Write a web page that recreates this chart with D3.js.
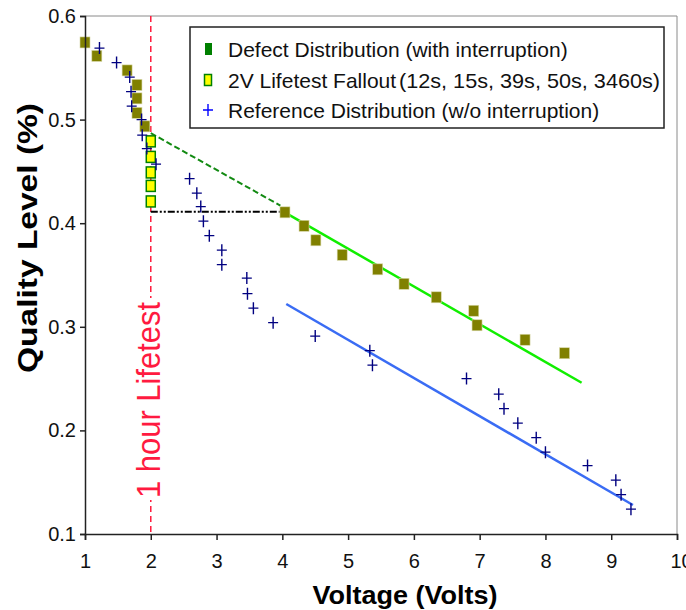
<!DOCTYPE html>
<html>
<head>
<meta charset="utf-8">
<script src="https://cdn.jsdelivr.net/npm/d3@7"></script>
<style>
  body { margin: 0; background: #fff; overflow: hidden; }
  text { font-family: Arial, "Liberation Sans", sans-serif; }
</style>
</head>
<body>
<script>
// Defect distribution (with interruption)
const defectX = [1.0, 1.18, 1.64, 1.79, 1.79, 1.79, 1.91, 4.04, 4.33, 4.51, 4.91, 5.45, 5.85, 6.34, 6.91, 6.96, 7.69, 8.29]
const defectY = [0.574, 0.561, 0.547, 0.533, 0.520, 0.506, 0.493, 0.410, 0.397, 0.383, 0.369, 0.355, 0.341, 0.328, 0.315, 0.301, 0.287, 0.274]

// 2V lifetest fallout
const falloutX = [2, 2, 2, 2, 2]
const falloutY = [0.479, 0.464, 0.449, 0.436, 0.421]

// Reference distribution (w/o interruption)
const refX = [1.22, 1.48, 1.68, 1.70, 1.71, 1.86, 1.87, 1.94, 2.08, 2.59, 2.70, 2.76, 2.80, 2.89, 3.08, 3.08, 3.46,
  3.47, 3.56, 3.86, 4.50, 5.33, 5.37, 6.80, 7.29, 7.37, 7.58, 7.86, 8.00, 8.64, 9.07, 9.15, 9.30]
const refY = [0.569, 0.555, 0.541, 0.527, 0.513, 0.500, 0.485, 0.472, 0.457, 0.443, 0.429, 0.416, 0.402, 0.388, 0.374,
  0.360, 0.347, 0.332, 0.318, 0.304, 0.291, 0.277, 0.263, 0.250, 0.235, 0.221, 0.207, 0.193, 0.179, 0.166, 0.152, 0.138, 0.124]

// trend lines [[x0, y0], [x1, y1]]
const defectFit = [[4.05, 0.410], [8.55, 0.246]]
const refFit = [[4.06, 0.322], [9.33, 0.128]]
const fallbackLine = [[2, 0.487], [3.97, 0.417]]
const levelLine = [[2, 0.411], [3.96, 0.411]]
const lifetestX = 2

const xTicks = [1, 2, 3, 4, 5, 6, 7, 8, 9, 10]
const yTicks = [0.1, 0.2, 0.3, 0.4, 0.5, 0.6]

const legendLabels = [
  'Defect Distribution (with interruption)',
  '2V Lifetest Fallout',
  'Reference Distribution (w/o interruption)'
]

const WIDTH = 686
const HEIGHT = 610

const svg = d3.select('body')
  .append('svg')
  .attr('width', WIDTH)
  .attr('height', HEIGHT)

const x = d3.scaleLinear().domain([1, 10]).range([85, 677])
const y = d3.scaleLinear().domain([0.1, 0.6]).range([534, 16])

// gray frame on top / right
svg.append('path')
  .attr('d', `M${x(1)},${y(0.6)}H${x(10)}V${y(0.1)}`)
  .attr('fill', 'none')
  .attr('stroke', '#8a8a8a')
  .attr('stroke-width', 1)

const line = d3.line().x(d => x(d[0])).y(d => y(d[1]))

// 1 hour lifetest marker
svg.append('line')
  .attr('x1', x(lifetestX)).attr('x2', x(lifetestX))
  .attr('y1', y(0.6)).attr('y2', y(0.1))
  .attr('stroke', '#ff1a3c')
  .attr('stroke-width', 1.5)
  .attr('stroke-dasharray', '6,4')

svg.append('rect')
  .attr('x', x(lifetestX) - 18).attr('y', 298)
  .attr('width', 29).attr('height', 202)
  .attr('fill', '#fff')

svg.append('text')
  .attr('transform', `translate(${x(lifetestX) + 9},400) rotate(-90)`)
  .attr('text-anchor', 'middle')
  .attr('font-size', 33)
  .attr('textLength', 196)
  .attr('lengthAdjust', 'spacingAndGlyphs')
  .attr('fill', '#ff1a40')
  .text('1 hour Lifetest')

svg.append('path')
  .attr('d', line(fallbackLine))
  .attr('stroke', '#128a12')
  .attr('stroke-width', 2)
  .attr('stroke-dasharray', '6,3')
  .attr('fill', 'none')

svg.append('path')
  .attr('d', line(levelLine))
  .attr('stroke', '#000')
  .attr('stroke-width', 2)
  .attr('stroke-dasharray', '7,2,2,2,2,2')
  .attr('fill', 'none')

svg.append('path')
  .attr('d', line(defectFit))
  .attr('stroke', '#11ee00')
  .attr('stroke-width', 2.5)
  .attr('fill', 'none')

svg.append('path')
  .attr('d', line(refFit))
  .attr('stroke', '#3a6cf4')
  .attr('stroke-width', 2.5)
  .attr('fill', 'none')

// markers
const plus = (g, cx, cy, color) => {
  g.append('path')
    .attr('d', `M${cx - 5},${cy}H${cx + 5}M${cx},${cy - 6}V${cy + 6}`)
    .attr('stroke', color)
    .attr('stroke-width', 1.4)
    .attr('fill', 'none')
}

svg.append('g').selectAll('rect')
  .data(defectX.map((d, i) => [d, defectY[i]]))
  .join('rect')
  .attr('x', d => x(d[0]) - 5)
  .attr('y', d => y(d[1]) - 6)
  .attr('width', 10)
  .attr('height', 11)
  .attr('fill', '#808000')
  .attr('stroke', '#d8d8a8')
  .attr('stroke-width', 0.6)

svg.append('g').selectAll('rect')
  .data(falloutX.map((d, i) => [d, falloutY[i]]))
  .join('rect')
  .attr('x', d => x(d[0]) - 4.5)
  .attr('y', d => y(d[1]) - 5.5)
  .attr('width', 9)
  .attr('height', 11)
  .attr('fill', '#ffff00')
  .attr('stroke', '#008000')
  .attr('stroke-width', 1.5)

const refG = svg.append('g')
refX.forEach((d, i) => plus(refG, x(d), y(refY[i]), '#000080'))

// axes
const xAxis = svg.append('g')
  .attr('transform', `translate(0,${y(0.1)})`)
  .call(d3.axisBottom(x).tickValues(xTicks).tickSize(6).tickPadding(14).tickFormat(d3.format('d')))
xAxis.select('.domain').attr('stroke', '#222').attr('stroke-width', 1.5)
xAxis.selectAll('.tick line').attr('stroke', '#222').attr('stroke-width', 1.5)
xAxis.selectAll('.tick text')
  .attr('font-size', 20)
  .attr('font-family', 'Arial, "Liberation Sans", sans-serif')
  .attr('fill', '#111')
  .attr('dx', d => d === 10 ? 4 : 0)

const yAxis = svg.append('g')
  .attr('transform', `translate(${x(1)},0)`)
  .call(d3.axisLeft(y).tickValues(yTicks).tickSize(5).tickPadding(4).tickFormat(d3.format('.1f')))
yAxis.select('.domain').attr('stroke', '#222').attr('stroke-width', 1.5)
yAxis.selectAll('.tick line').attr('stroke', '#222').attr('stroke-width', 1.5)
yAxis.selectAll('.tick text')
  .attr('font-size', 20)
  .attr('font-family', 'Arial, "Liberation Sans", sans-serif')
  .attr('fill', '#111')

svg.append('text')
  .attr('x', 405).attr('y', 604)
  .attr('text-anchor', 'middle')
  .attr('font-size', 25)
  .attr('font-weight', 'bold')
  .attr('textLength', 185)
  .attr('lengthAdjust', 'spacingAndGlyphs')
  .text('Voltage (Volts)')

svg.append('text')
  .attr('transform', 'translate(37,238) rotate(-90)')
  .attr('text-anchor', 'middle')
  .attr('font-size', 28)
  .attr('font-weight', 'bold')
  .attr('textLength', 270)
  .attr('lengthAdjust', 'spacingAndGlyphs')
  .text('Quality Level (%)')

// legend
const legend = svg.append('g')
legend.append('rect')
  .attr('x', 190).attr('y', 27)
  .attr('width', 474).attr('height', 101)
  .attr('fill', '#fff')
  .attr('stroke', '#222')
  .attr('stroke-width', 1.5)

const rowY = [49, 80, 110]

legend.append('rect')
  .attr('x', 205).attr('y', rowY[0] - 6)
  .attr('width', 7).attr('height', 12)
  .attr('fill', '#008000')

legend.append('rect')
  .attr('x', 204.5).attr('y', rowY[1] - 5.5)
  .attr('width', 7).attr('height', 11)
  .attr('fill', '#ffff00')
  .attr('stroke', '#008000')
  .attr('stroke-width', 1.5)

plus(legend, 208, rowY[2], '#0000ff')

legend.selectAll('text.lbl')
  .data(legendLabels)
  .join('text')
  .attr('class', 'lbl')
  .attr('x', 228)
  .attr('y', (d, i) => rowY[i] + 7.5)
  .attr('font-size', 21)
  .attr('fill', '#111')
  .text(d => d)

legend.append('text')
  .attr('x', 399)
  .attr('y', rowY[1] + 7.5)
  .attr('font-size', 21)
  .attr('fill', '#111')
  .attr('textLength', 261)
  .attr('lengthAdjust', 'spacingAndGlyphs')
  .text('(12s, 15s, 39s, 50s, 3460s)')
</script>
</body>
</html>
